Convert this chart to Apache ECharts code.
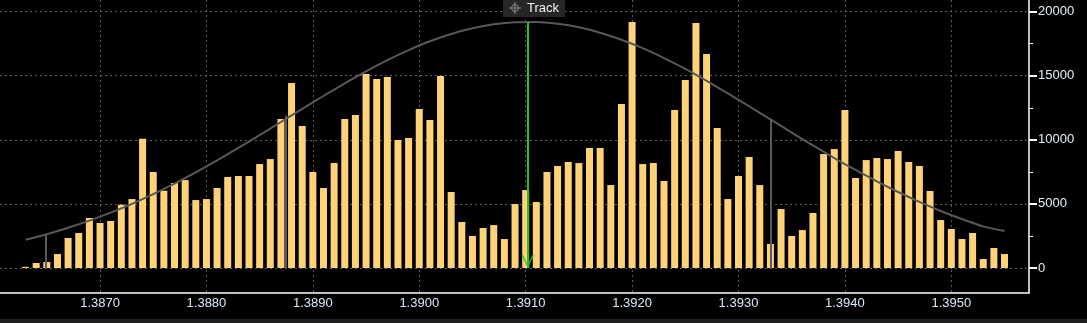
<!DOCTYPE html>
<html lang="en">
<head>
<meta charset="UTF-8">
<title>Track volume profile</title>
<script src="https://cdn.jsdelivr.net/npm/echarts@6.0.0/dist/echarts.min.js"></script>
<style>
  html, body { margin: 0; padding: 0; background: #000; }
  #chart { width: 1087px; height: 323px; }
</style>
</head>
<body>
<div id="chart"></div>
<script>
  // histogram bins (price) and their volumes
  var binPrice = [
    1.3863, 1.3864, 1.3865, 1.3866, 1.3867, 1.3868, 1.3869,
    1.3870, 1.3871, 1.3872, 1.3873, 1.3874, 1.3875, 1.3876, 1.3877, 1.3878, 1.3879,
    1.3880, 1.3881, 1.3882, 1.3883, 1.3884, 1.3885, 1.3886, 1.3887, 1.3888, 1.3889,
    1.3890, 1.3891, 1.3892, 1.3893, 1.3894, 1.3895, 1.3896, 1.3897, 1.3898, 1.3899,
    1.3900, 1.3901, 1.3902, 1.3903, 1.3904, 1.3905, 1.3906, 1.3907, 1.3908, 1.3909,
    1.3910, 1.3911, 1.3912, 1.3913, 1.3914, 1.3915, 1.3916, 1.3917, 1.3918, 1.3919,
    1.3920, 1.3921, 1.3922, 1.3923, 1.3924, 1.3925, 1.3926, 1.3927, 1.3928, 1.3929,
    1.3930, 1.3931, 1.3932, 1.3933, 1.3934, 1.3935, 1.3936, 1.3937, 1.3938, 1.3939,
    1.3940, 1.3941, 1.3942, 1.3943, 1.3944, 1.3945, 1.3946, 1.3947, 1.3948, 1.3949,
    1.3950, 1.3951, 1.3952, 1.3953, 1.3954, 1.3955
  ];
  var binVolume = [
    90, 390, 470, 1090, 2340, 2730, 3900,
    3510, 3670, 4940, 5380, 10090, 7490, 6030, 6630, 6860, 5300,
    5380, 6240, 7100, 7180, 7180, 8110, 8500, 11620, 14430, 11080,
    7490, 6240, 8190, 11620, 11930, 15130, 14740, 14900, 9980, 10140,
    12400, 11540, 14980, 5930, 3590, 2500, 3120, 3350, 2260, 4990,
    6080, 5150, 7490, 7960, 8270, 8190, 9360, 9360, 6470, 12790,
    19190, 8110, 8190, 6790, 12320, 14660, 19110, 16690, 10920, 5380,
    7180, 8660, 6470, 1870, 4600, 2500, 2960, 4290, 8890, 9280,
    12320, 7020, 8420, 8580, 8500, 9130, 8270, 7960, 6010, 3740,
    3040, 2260, 2730, 700, 1560, 1090
  ];

  // fitted curve
  var curvePrice = [
    1.3863, 1.3865, 1.3867, 1.3869, 1.3871, 1.3873, 1.3875, 1.3877, 1.3879, 1.3881,
    1.3883, 1.3885, 1.3887, 1.3889, 1.3891, 1.3893, 1.3895, 1.3897, 1.3899, 1.3901,
    1.3903, 1.3905, 1.3907, 1.3909, 1.3911, 1.3913, 1.3915, 1.3917, 1.3919, 1.3921,
    1.3923, 1.3925, 1.3927, 1.3929, 1.3931, 1.3933, 1.3935, 1.3937, 1.3939, 1.3941,
    1.3943, 1.3945, 1.3947, 1.3949, 1.3951, 1.3953, 1.3955
  ];
  var curveVolume = [
    2210, 2630, 3140, 3700, 4320, 5010, 5770, 6590, 7470, 8400,
    9370, 10370, 11390, 12420, 13420, 14410, 15340, 16220, 17000, 17690,
    18260, 18700, 19010, 19170, 19190, 19050, 18780, 18360, 17810, 17150,
    16380, 15530, 14600, 13620, 12620, 11600, 10570, 9560, 8580, 7650,
    6760, 5930, 5160, 4450, 3820, 3250, 2880
  ];

  // deviation markers and the track (mean) line
  var sigmaPrice = [1.38649, 1.38875, 1.39330];
  var sigmaHeight = [2630, 11900, 11620];
  var trackPrice = 1.39102;
  var trackHeight = 19190;

  var xTicks = [1.387, 1.388, 1.389, 1.390, 1.391, 1.392, 1.393, 1.394, 1.395];
  var yTicks = [0, 5000, 10000, 15000, 20000];
  var yMinorTicks = [2500, 7500, 12500, 17500];

  var font = '"Liberation Sans", Arial, sans-serif';

  var barData = binPrice.map(function (p, i) { return [p, binVolume[i]]; });
  var curveData = curvePrice.map(function (p, i) { return [p, curveVolume[i]]; });

  var markers = sigmaPrice.map(function (p, i) {
    return [
      { coord: [p, 0], lineStyle: { color: '#5a5a5a' } },
      { coord: [p, sigmaHeight[i]] }
    ];
  });
  markers.push([
    { coord: [trackPrice, 0], lineStyle: { color: '#27c22a' } },
    { coord: [trackPrice, trackHeight] }
  ]);

  var option = {
    backgroundColor: '#000',
    animation: false,
    grid: { left: 0, right: 58, top: 0, bottom: 30 },
    xAxis: {
      type: 'value',
      min: 1.38606,
      max: 1.39573,
      axisLine: { onZero: false, lineStyle: { color: '#ffffff', width: 1.5 } },
      axisTick: { show: false, customValues: xTicks },
      axisLabel: {
        customValues: xTicks,
        formatter: function (v) { return v.toFixed(4); },
        color: '#dbe7f7',
        fontSize: 13,
        fontFamily: font,
        margin: 4
      },
      splitLine: { show: true, lineStyle: { color: '#5c5c5c', type: [2, 3], width: 1 } }
    },
    yAxis: [{
      type: 'value',
      position: 'right',
      min: -1950,
      max: 20910,
      axisLine: { show: true, lineStyle: { color: '#ffffff', width: 1.5 } },
      axisTick: { show: true, inside: false, length: 8, customValues: yTicks, lineStyle: { color: '#ffffff', width: 2 } },
      axisLabel: {
        customValues: yTicks,
        formatter: function (v) { return String(v); },
        color: '#e4eefa',
        fontSize: 13,
        fontFamily: font,
        margin: 9
      },
      splitLine: { show: true, lineStyle: { color: '#5c5c5c', type: [2, 3], width: 1 } }
    }, {
      type: 'value',
      position: 'right',
      min: -1950,
      max: 20910,
      axisLine: { show: false },
      axisTick: { show: true, length: 4, customValues: yMinorTicks, lineStyle: { color: '#ffffff', width: 1 } },
      axisLabel: { show: false },
      splitLine: { show: false }
    }],
    graphic: [
      { type: 'rect', z: 100, shape: { x: 503, y: 0, width: 62, height: 17 }, style: { fill: '#262626' } },
      { type: 'circle', z: 101, shape: { cx: 515, cy: 8, r: 3.5 }, style: { fill: 'none', stroke: '#8a8a8a', lineWidth: 1 } },
      { type: 'line', z: 101, shape: { x1: 509, y1: 8, x2: 521, y2: 8 }, style: { stroke: '#8a8a8a', lineWidth: 1 } },
      { type: 'line', z: 101, shape: { x1: 515, y1: 2, x2: 515, y2: 14 }, style: { stroke: '#8a8a8a', lineWidth: 1 } },
      { type: 'text', z: 101, x: 527, y: 2, style: { text: 'Track', fill: '#f2f2f2', font: '13px ' + font } },
      { type: 'rect', z: 100, shape: { x: 0, y: 319, width: 1087, height: 4 }, style: { fill: '#1e1e1e' } }
    ],
    series: [{
      type: 'bar',
      data: barData,
      barWidth: 7,
      silent: true,
      itemStyle: { color: '#ffd27a' }
    }, {
      type: 'line',
      data: curveData,
      showSymbol: false,
      smooth: 0.3,
      silent: true,
      lineStyle: { color: '#585858', width: 2 },
      markLine: {
        silent: true,
        symbol: 'none',
        label: { show: false },
        lineStyle: { width: 2, type: 'solid' },
        data: markers
      }
    }, {
      type: 'scatter',
      data: [[trackPrice, 0]],
      silent: true,
      symbol: 'path://M0,0 L2.2,0 L6.5,10 L10.8,0 L13,0 L6.5,13 Z',
      symbolSize: [13, 13],
      symbolOffset: [0, -6.5],
      itemStyle: { color: '#27c22a' }
    }]
  };

  echarts.init(document.getElementById('chart')).setOption(option);
</script>
</body>
</html>
